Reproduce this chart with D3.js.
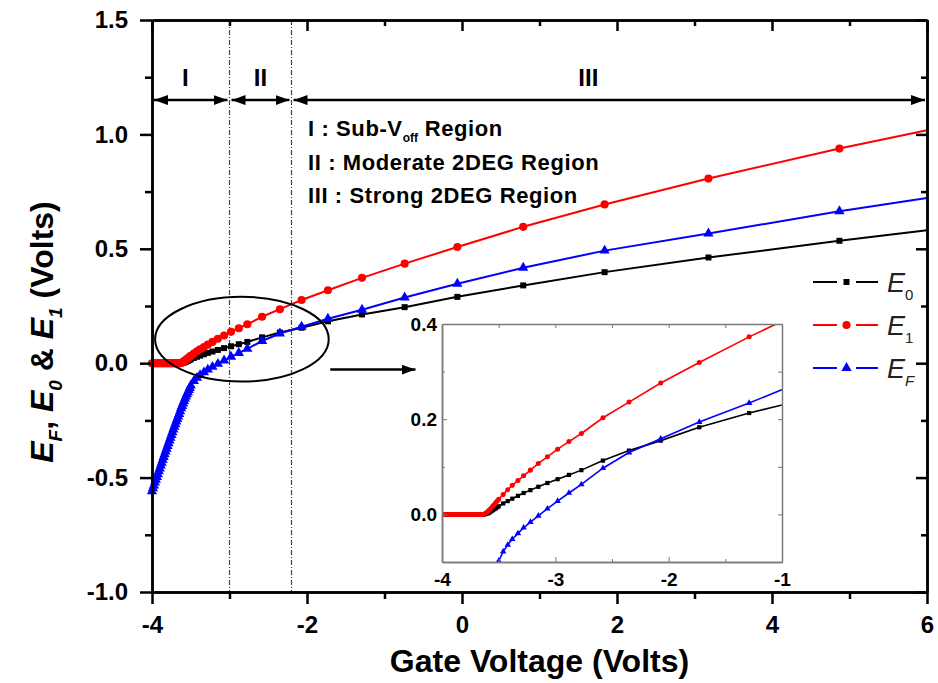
<!DOCTYPE html>
<html>
<head>
<meta charset="utf-8">
<script src="https://cdn.jsdelivr.net/npm/d3@7"></script>
<style>
  body { margin: 0; background: #fff; }
  svg { display: block; font-family: "Liberation Sans", Arial, sans-serif; }
</style>
</head>
<body>
<svg id="chart" width="938" height="683"></svg>
<script>
// gate voltage samples shared by the three curves (dense near threshold)
const gateV = [
  -4.0, -3.9875, -3.975, -3.9625, -3.95, -3.9375, -3.925, -3.9125, -3.9, -3.8875,
  -3.875, -3.8625, -3.85, -3.8375, -3.825, -3.8125, -3.8, -3.7875, -3.775, -3.7625,
  -3.75, -3.7375, -3.725, -3.7125, -3.7, -3.6875, -3.675, -3.6625, -3.65, -3.6375,
  -3.625, -3.6125, -3.6, -3.5875, -3.575, -3.5625, -3.55, -3.5375, -3.525, -3.5125,
  -3.5, -3.46, -3.42, -3.38, -3.33, -3.28, -3.22, -3.15, -3.07, -2.98,
  -2.88, -2.77, -2.58, -2.35, -2.07, -1.73, -1.29, -0.74, -0.06, 0.79,
  1.84, 3.18, 4.87, 6.0
];

// E0 (black squares)
const e0 = [
  0, 0, 0, 0, 0, 0, 0, 0, 0, 0,
  0, 0, 0, 0, 0, 0, 0, 0, 0, 0,
  0, 0, 0, 0, 0, 0, 0, 0, 0, 0,
  0, 0.001, 0.002, 0.003, 0.005, 0.007, 0.009, 0.011, 0.013, 0.015,
  0.017, 0.023, 0.028, 0.033, 0.039, 0.045, 0.051, 0.058, 0.066, 0.074,
  0.083, 0.093, 0.113, 0.134, 0.155, 0.183, 0.213, 0.245, 0.29, 0.34,
  0.398, 0.462, 0.535, 0.581
];

// E1 (red circles)
const e1 = [
  0, 0, 0, 0, 0, 0, 0, 0, 0, 0,
  0, 0, 0, 0, 0, 0, 0, 0, 0, 0,
  0, 0, 0, 0, 0, 0, 0, 0, 0, 0,
  0.001, 0.003, 0.005, 0.008, 0.011, 0.014, 0.018, 0.021, 0.025, 0.028,
  0.032, 0.042, 0.052, 0.061, 0.071, 0.081, 0.093, 0.107, 0.121, 0.137,
  0.153, 0.17, 0.203, 0.236, 0.276, 0.319, 0.373, 0.435, 0.508, 0.596,
  0.694, 0.807, 0.938, 1.018
];

// EF (blue triangles)
const eF = [
  -0.56, -0.547, -0.535, -0.522, -0.51, -0.497, -0.485, -0.472, -0.46, -0.447,
  -0.435, -0.422, -0.41, -0.398, -0.386, -0.374, -0.362, -0.35, -0.338, -0.326,
  -0.314, -0.302, -0.29, -0.278, -0.267, -0.255, -0.244, -0.233, -0.222, -0.21,
  -0.197, -0.187, -0.176, -0.166, -0.156, -0.146, -0.136, -0.127, -0.117, -0.108,
  -0.098, -0.078, -0.064, -0.052, -0.04, -0.028, -0.016, -0.003, 0.012, 0.028,
  0.045, 0.063, 0.097, 0.13, 0.159, 0.194, 0.234, 0.287, 0.347, 0.417,
  0.492, 0.567, 0.664, 0.722
];

// axis ticks
const xMajor = [-4, -2, 0, 2, 4, 6];
const xMinor = [-3, -1, 1, 3, 5];
const yMajor = [-1, -0.5, 0, 0.5, 1, 1.5];
const yMinor = [-0.75, -0.25, 0.25, 0.75, 1.25];

const insetXMajor = [-4, -3, -2, -1];
const insetXMinor = [-3.5, -2.5, -1.5];
const insetYMajor = [0, 0.2, 0.4];
const insetYMinor = [0.1, 0.3];

// operating regions
const regionBounds = [-4, -3, -2.2, 6];
const regionNames = ["I", "II", "III"];
const regionLabelV = [-3.57, -2.6, 1.63];

const svg = d3.select("#chart");
const x = d3.scaleLinear().domain([-4, 6]).range([152, 927]);
const y = d3.scaleLinear().domain([-1, 1.5]).range([592, 20]);

const series = [
  { name: "0", values: e0, color: "#000000", symbol: d3.symbolSquare, size: 36, small: 18, italicSub: false },
  { name: "1", values: e1, color: "#ff0000", symbol: d3.symbolCircle, size: 52, small: 20, italicSub: false },
  { name: "F", values: eF, color: "#0000ff", symbol: d3.symbolTriangle, size: 46, small: 18, italicSub: true },
];

const defs = svg.append("defs");
defs.append("marker")
  .attr("id", "head")
  .attr("viewBox", "0 0 14 10")
  .attr("refX", 14).attr("refY", 5)
  .attr("markerWidth", 14).attr("markerHeight", 10)
  .attr("markerUnits", "userSpaceOnUse")
  .attr("orient", "auto-start-reverse")
  .append("path").attr("d", "M0,0 L14,5 L0,10 Z").attr("fill", "#000");
defs.append("clipPath").attr("id", "insetClip")
  .append("rect").attr("x", 442).attr("y", 324).attr("width", 340).attr("height", 238);

// vertical dash-dot region separators
svg.append("g").selectAll("line")
  .data(regionBounds.slice(1, 3))
  .join("line")
  .attr("x1", d => x(d)).attr("x2", d => x(d))
  .attr("y1", y(1.5)).attr("y2", y(-1))
  .attr("stroke", "#444").attr("stroke-width", 1.2)
  .attr("stroke-dasharray", "5,2,1,2");

// region arrows and labels
const regions = regionNames.map((n, i) => ({ name: n, from: regionBounds[i], to: regionBounds[i + 1], lab: regionLabelV[i] }));
svg.append("g").selectAll("line")
  .data(regions)
  .join("line")
  .attr("x1", d => x(d.from) + 2).attr("x2", d => x(d.to) - 2)
  .attr("y1", y(1.15)).attr("y2", y(1.15))
  .attr("stroke", "#000").attr("stroke-width", 2.5)
  .attr("marker-start", "url(#head)").attr("marker-end", "url(#head)");
svg.append("g").selectAll("text")
  .data(regions)
  .join("text")
  .attr("x", d => x(d.lab)).attr("y", 86)
  .attr("text-anchor", "middle")
  .attr("font-size", 24).attr("font-weight", "bold")
  .text(d => d.name);

// region descriptions
const desc = svg.append("g").attr("font-size", 22).attr("font-weight", "bold").attr("letter-spacing", 0.6);
const d1 = desc.append("text").attr("x", 308).attr("y", 136);
d1.append("tspan").text("I : Sub-V");
d1.append("tspan").attr("font-size", 12).attr("dy", 6).attr("letter-spacing", 0).text("off");
d1.append("tspan").attr("dy", -6).text(" Region");
desc.append("text").attr("x", 308).attr("y", 170).text("II : Moderate 2DEG Region");
desc.append("text").attr("x", 308).attr("y", 203).text("III : Strong 2DEG Region");

// curves in the main panel
const line = d3.line().x(d => x(d[0])).y(d => y(d[1]));
series.forEach(s => {
  const pts = gateV.map((v, i) => [v, s.values[i]]);
  svg.append("path").datum(pts)
    .attr("d", line)
    .attr("fill", "none").attr("stroke", s.color).attr("stroke-width", 2);
  svg.append("g").selectAll("path")
    .data(pts.filter(p => p[0] < 6))
    .join("path")
    .attr("transform", p => `translate(${x(p[0])},${y(p[1])})`)
    .attr("d", d3.symbol().type(s.symbol).size(s.size))
    .attr("fill", s.color);
});

// axes
function styleAxis(g) {
  g.select(".domain").attr("stroke-width", 2.5);
  g.selectAll(".tick line").attr("stroke-width", 2.5);
  g.selectAll("text").attr("font-size", 24).attr("font-weight", "bold")
    .attr("font-family", "'Liberation Sans', Arial, sans-serif").attr("fill", "#000");
}
const fmtX = d => String(d);
const fmtY = d => d.toFixed(1);
svg.append("g").attr("transform", "translate(0,592)")
  .call(d3.axisBottom(x).tickValues(xMajor).tickSize(12).tickSizeOuter(0).tickPadding(12).tickFormat(fmtX))
  .call(styleAxis);
svg.append("g").attr("transform", "translate(0,592)")
  .call(d3.axisBottom(x).tickValues(xMinor).tickSize(7).tickSizeOuter(0).tickFormat(""))
  .call(styleAxis);
svg.append("g").attr("transform", "translate(0,20)")
  .call(d3.axisBottom(x).tickValues(xMajor).tickSize(11).tickSizeOuter(0).tickFormat(""))
  .call(styleAxis);
svg.append("g").attr("transform", "translate(0,20)")
  .call(d3.axisBottom(x).tickValues(xMinor).tickSize(6).tickSizeOuter(0).tickFormat(""))
  .call(styleAxis);
svg.append("g").attr("transform", "translate(152,0)")
  .call(d3.axisLeft(y).tickValues(yMajor).tickSize(12).tickSizeOuter(0).tickPadding(12).tickFormat(fmtY))
  .call(styleAxis);
svg.append("g").attr("transform", "translate(152,0)")
  .call(d3.axisLeft(y).tickValues(yMinor).tickSize(7).tickSizeOuter(0).tickFormat(""))
  .call(styleAxis);
svg.append("g").attr("transform", "translate(927,0)")
  .call(d3.axisLeft(y).tickValues(yMajor).tickSize(11).tickSizeOuter(0).tickFormat(""))
  .call(styleAxis);
svg.append("g").attr("transform", "translate(927,0)")
  .call(d3.axisLeft(y).tickValues(yMinor).tickSize(6).tickSizeOuter(0).tickFormat(""))
  .call(styleAxis);

// axis titles
svg.append("text")
  .attr("x", x(1)).attr("y", 672)
  .attr("text-anchor", "middle")
  .attr("font-size", 32).attr("font-weight", "bold")
  .text("Gate Voltage (Volts)");

const yt = svg.append("text")
  .attr("transform", "translate(53,332) rotate(-90)")
  .attr("text-anchor", "middle")
  .attr("font-size", 32).attr("font-weight", "bold");
[["F", ", "], ["0", " & "], ["1", " (Volts)"]].forEach(([sub, after]) => {
  yt.append("tspan").attr("font-style", "italic").text("E");
  yt.append("tspan").attr("font-style", "italic").attr("font-size", 19).attr("dy", 9).text(sub);
  yt.append("tspan").attr("dy", -9).text(after);
});

// ellipse highlighting the threshold region + pointer arrow
svg.append("ellipse")
  .attr("cx", (x(-3.96) + x(-1.72)) / 2).attr("cy", (y(-0.08) + y(0.29)) / 2)
  .attr("rx", (x(-1.72) - x(-3.96)) / 2).attr("ry", (y(-0.08) - y(0.29)) / 2)
  .attr("fill", "none").attr("stroke", "#000").attr("stroke-width", 2);
svg.append("line")
  .attr("x1", x(-1.7)).attr("x2", x(-0.6))
  .attr("y1", y(-0.028)).attr("y2", y(-0.028))
  .attr("stroke", "#000").attr("stroke-width", 2.5)
  .attr("marker-end", "url(#head)");

// legend
const legend = svg.append("g");
const legendY = [282, 325, 368];
series.forEach((s, i) => {
  const g = legend.append("g").attr("transform", `translate(0,${legendY[i]})`);
  g.append("line").attr("x1", 813).attr("x2", 837).attr("stroke", s.color).attr("stroke-width", 2);
  g.append("line").attr("x1", 856).attr("x2", 878).attr("stroke", s.color).attr("stroke-width", 2);
  g.append("path").attr("transform", "translate(846.5,0)")
    .attr("d", d3.symbol().type(s.symbol).size(s.size)).attr("fill", s.color);
  const t = g.append("text").attr("x", 887).attr("y", 10).attr("font-size", 27).attr("font-style", "italic").attr("fill", "#222");
  t.append("tspan").text("E");
  t.append("tspan").attr("font-size", 15).attr("dy", 8)
    .attr("font-style", s.italicSub ? "italic" : "normal").text(s.name);
});

// inset
const xi = d3.scaleLinear().domain([-4, -1]).range([442, 782]);
const yi = d3.scaleLinear().domain([-0.1, 0.4]).range([562, 324]);
const inset = svg.append("g");
inset.append("rect").attr("x", 442).attr("y", 324).attr("width", 340).attr("height", 238).attr("fill", "#fff");

const lineI = d3.line().x(d => xi(d[0])).y(d => yi(d[1]));
const plotI = inset.append("g").attr("clip-path", "url(#insetClip)");
series.forEach(s => {
  const pts = gateV.map((v, i) => [v, s.values[i]]).filter(p => p[0] <= -0.7);
  plotI.append("path").datum(pts)
    .attr("d", lineI)
    .attr("fill", "none").attr("stroke", s.color).attr("stroke-width", 1.6);
  plotI.append("g").selectAll("path")
    .data(pts.filter(p => p[0] < -1))
    .join("path")
    .attr("transform", p => `translate(${xi(p[0])},${yi(p[1])})`)
    .attr("d", d3.symbol().type(s.symbol).size(s.small))
    .attr("fill", s.color);
});

function styleInset(g) {
  g.select(".domain").attr("stroke", "#7a7a7a").attr("stroke-width", 1.5);
  g.selectAll(".tick line").attr("stroke", "#7a7a7a").attr("stroke-width", 1);
  g.selectAll("text").attr("font-size", 19).attr("font-weight", "bold")
    .attr("font-family", "'Liberation Sans', Arial, sans-serif").attr("fill", "#000");
}
inset.append("g").attr("transform", "translate(0,562)")
  .call(d3.axisBottom(xi).tickValues(insetXMajor).tickSizeInner(-5).tickSizeOuter(0).tickPadding(11).tickFormat(fmtX))
  .call(styleInset);
inset.append("g").attr("transform", "translate(0,562)")
  .call(d3.axisBottom(xi).tickValues(insetXMinor).tickSizeInner(-3).tickSizeOuter(0).tickFormat(""))
  .call(styleInset);
inset.append("g").attr("transform", "translate(0,324)")
  .call(d3.axisTop(xi).tickValues(insetXMajor.concat(insetXMinor)).tickSizeInner(-4).tickSizeOuter(0).tickFormat(""))
  .call(styleInset);
inset.append("g").attr("transform", "translate(442,0)")
  .call(d3.axisLeft(yi).tickValues(insetYMajor).tickSizeInner(-5).tickSizeOuter(0).tickPadding(5).tickFormat(fmtY))
  .call(styleInset);
inset.append("g").attr("transform", "translate(442,0)")
  .call(d3.axisLeft(yi).tickValues(insetYMinor).tickSizeInner(-3).tickSizeOuter(0).tickFormat(""))
  .call(styleInset);
inset.append("g").attr("transform", "translate(782,0)")
  .call(d3.axisRight(yi).tickValues(insetYMajor.concat(insetYMinor)).tickSizeInner(-4).tickSizeOuter(0).tickFormat(""))
  .call(styleInset);
</script>
</body>
</html>
